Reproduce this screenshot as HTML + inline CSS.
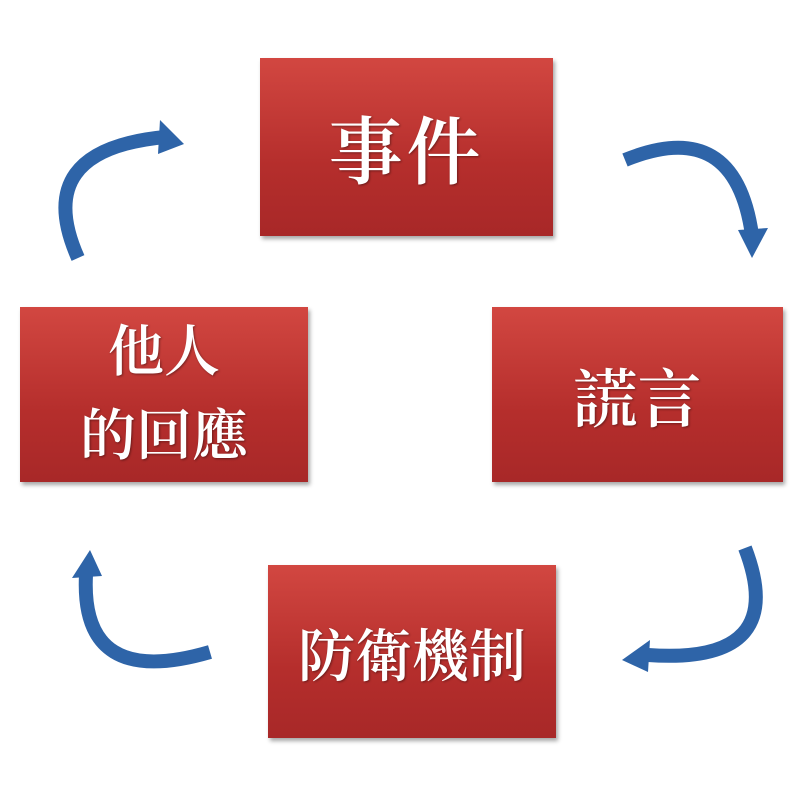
<!DOCTYPE html>
<html><head><meta charset="utf-8"><style>
body{margin:0;width:800px;height:800px;background:#fff;position:relative;overflow:hidden;font-family:"Liberation Serif","Noto Serif CJK SC",serif}
.b{position:absolute;background:linear-gradient(#d24741,#b52e2c 60%,#a82828);box-shadow:2px 3px 4px rgba(0,0,0,.35);color:#fff;display:flex;align-items:center;justify-content:center;text-align:center;font-weight:600;text-shadow:1px 1px 2px rgba(0,0,0,.4)}
</style></head><body>
<div class="b" style="left:260px;top:58px;width:293px;height:178px;font-size:74px;letter-spacing:4px">事件</div>
<div class="b" style="left:492px;top:307px;width:291px;height:175px;font-size:64px">謊言</div>
<div class="b" style="left:20px;top:307px;width:288px;height:175px;font-size:56px;line-height:84px">他人<br>的回應</div>
<div class="b" style="left:268px;top:565px;width:288px;height:173px;font-size:57px">防衛機制</div>
<svg width="800" height="800" style="position:absolute;left:0;top:0" fill="#2e64a8">
<g fill="none" stroke="#2e64a8" stroke-width="14">
<path d="M78 258 Q30 150 165 137"/>
<path d="M625 160 Q735 115 752 235"/>
<path d="M745 548 Q790 665 648 655"/>
<path d="M210 652 Q80 690 86 575"/>
</g>
<polygon points="160,120 184,144 158,154"/>
<polygon points="738,230 752,258 768,228"/>
<polygon points="650,640 622,660 648,672"/>
<polygon points="72,578 90,550 102,576"/>
</svg>
</body></html>
